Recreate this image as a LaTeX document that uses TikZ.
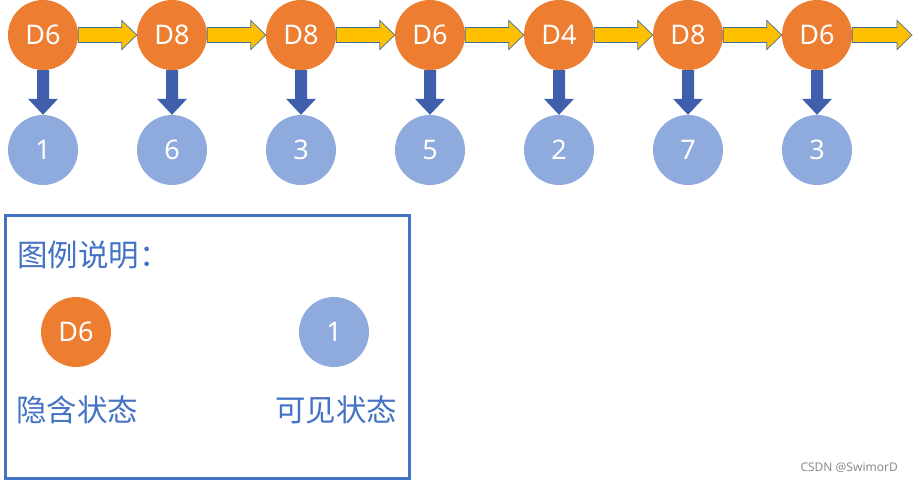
\documentclass[tikz,border=0pt]{standalone}
\usepackage{fontspec}
\setmainfont{Noto Sans}
\newfontfamily\cjk{Noto Sans CJK SC}
\usetikzlibrary{calc}
\definecolor{hid}{HTML}{ED7D31}
\definecolor{vis}{HTML}{8FAADC}
\definecolor{ylw}{HTML}{FFC000}
\definecolor{outl}{HTML}{41719C}
\definecolor{dblue}{HTML}{3F5FAC}
\definecolor{lblue}{HTML}{4472C4}
\tikzset{
  hidden/.style={circle,fill=hid,minimum size=70pt,inner sep=0pt,text=white,font=\fontsize{27}{27}\selectfont},
  visible/.style={circle,fill=vis,minimum size=70pt,inner sep=0pt,text=white,font=\fontsize{27}{27}\selectfont},
  harrow/.style={fill=ylw,draw=outl,line width=0.7pt,line join=miter},
  varrow/.style={fill=dblue},
  legendtxt/.style={text=lblue,font=\cjk\fontsize{30.5}{30.5}\selectfont,inner sep=0pt,anchor=west}
}
\newcommand{\hblock}[2]{%
  \path[harrow] ($(#1.east)+(0,-7.5)$) -- ($(#2)+(-15,-7.5)$) -- ($(#2)+(-15,-14.5)$) -- (#2)
    -- ($(#2)+(-15,14.5)$) -- ($(#2)+(-15,7.5)$) -- ($(#1.east)+(0,7.5)$) -- cycle;}
\newcommand{\vblock}[2]{%
  \path[varrow] ($(#1.south)+(-6,0)$) -- ($(#2.north)+(-6,-16)$) -- ($(#2.north)+(-15,-16)$) -- (#2.north)
    -- ($(#2.north)+(15,-16)$) -- ($(#2.north)+(6,-16)$) -- ($(#1.south)+(6,0)$) -- cycle;}
\begin{document}
\begin{tikzpicture}[x=1pt,y=-1pt]
\useasboundingbox (0,0) rectangle (913,483);
% hidden states
\foreach \i/\lab/\v in {1/D6/1,2/D8/6,3/D8/3,4/D6/5,5/D4/2,6/D8/7,7/D6/3}{
  \node[hidden] (h\i) at ({43+129*(\i-1)},35) {\lab};
  \node[visible] (v\i) at ({43+129*(\i-1)},150) {\v};
}
\hblock{h1}{h2.west}
\hblock{h2}{h3.west}
\hblock{h3}{h4.west}
\hblock{h4}{h5.west}
\hblock{h5}{h6.west}
\hblock{h6}{h7.west}
\coordinate (end) at (912,35);
\hblock{h7}{end}
\foreach \i in {1,...,7}{\vblock{h\i}{v\i}}
% legend
\draw[lblue,line width=3pt] (5.5,215.5) rectangle (409.5,478.5);
\node[legendtxt] (title) at (17,255) {图例说明：};
\node[hidden] (lh) at (76,332) {D6};
\node[visible] (lv) at (334,332) {1};
\node[legendtxt] (lht) at (16,410) {隐含状态};
\node[legendtxt] (lvt) at (275,410) {可见状态};
\node[text=black!45,font=\fontsize{12}{12}\selectfont,inner sep=0pt,anchor=east] (wm) at (898,468) {CSDN @SwimorD};
\end{tikzpicture}
\end{document}
